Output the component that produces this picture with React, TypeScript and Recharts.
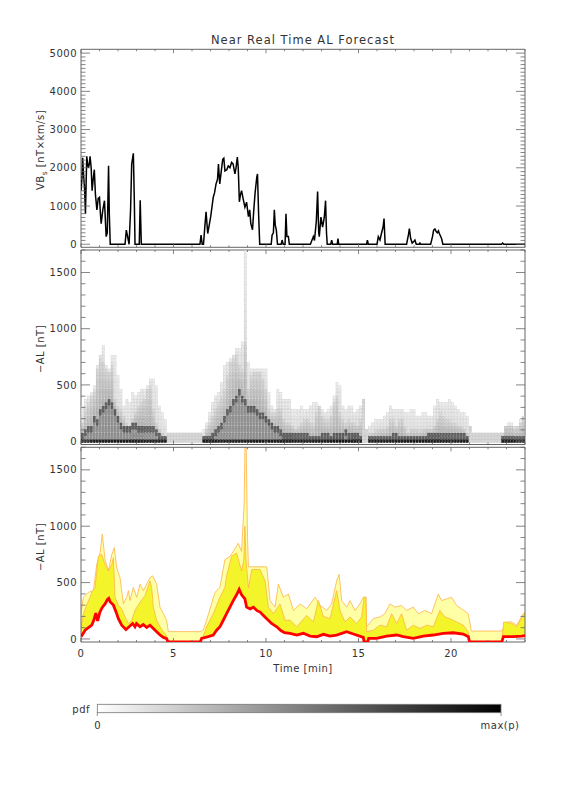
import React from "react";
import {
  Area,
  ComposedChart,
  Line,
  ReferenceArea,
  Scatter,
  XAxis,
  YAxis,
} from "recharts";

const FONT = "DejaVu Sans";
const FRAME = "#666";
const TEXT = "#333";
const PLOT_W = 444;

// ---- top panel: VBs [nT x km/s] vs time [min]
const vbTime = [
  0, 0.05, 0.09, 0.14, 0.19, 0.24, 0.31, 0.36, 0.4, 0.45, 0.49, 0.55, 0.6, 0.66, 0.72, 0.78, 0.86, 0.93, 1.0,
  1.05, 1.09, 1.18, 1.27, 1.32, 1.36, 1.42, 1.49, 1.53, 1.58, 2.38, 2.45, 2.52, 2.6, 2.68, 2.74, 2.83, 2.88,
  2.92, 3.15, 3.2, 3.26, 6.43, 6.49, 6.55, 6.62, 6.7, 6.76, 6.85, 6.93, 7.01, 7.15, 7.22, 7.3, 7.38, 7.43, 7.5,
  7.58, 7.66, 7.72, 7.78, 7.88, 7.96, 8.05, 8.14, 8.22, 8.32, 8.38, 8.45, 8.5, 8.56, 8.62, 8.68, 8.76, 8.86,
  8.95, 9.05, 9.12, 9.18, 9.27, 9.34, 9.41, 9.5, 9.54, 9.6, 9.66, 10.28, 10.33, 10.4, 10.45, 10.5, 10.56,
  10.62, 10.82, 10.87, 10.93, 11.03, 11.08, 11.13, 11.21, 11.26, 12.4, 12.56, 12.62, 12.72, 12.79, 12.85,
  12.88, 12.97, 13.06, 13.15, 13.22, 13.27, 13.31, 13.5, 13.55, 13.6, 13.85, 13.89, 13.93, 15.44, 15.48,
  15.53, 16.0, 16.07, 16.16, 16.25, 16.33, 16.38, 16.44, 17.6, 17.7, 17.75, 17.82, 17.9, 18.0, 18.05, 18.12,
  18.28, 18.32, 18.36, 18.9, 19.0, 19.06, 19.13, 19.2, 19.26, 19.32, 19.37, 19.49, 19.56, 22.73, 22.79,
  22.85, 24,
];
const vbValue = [
  1400, 1700, 2260, 1800, 1490, 800, 2300, 2100, 2000, 2100, 2300, 2000, 1400, 1700, 1950, 1300, 900, 1200,
  1230, 800, 540, 900, 1140, 600, 200, 300, 2050, 800, 0, 0, 370, 200, 0, 900, 2100, 2380, 1200, 0, 0, 1150,
  0, 0, 240, 0, 0, 500, 850, 280, 500, 720, 1230, 1350, 1580, 1700, 2100, 1580, 1900, 2220, 2250, 1920, 1950,
  2050, 2000, 2140, 2100, 1840, 2000, 2280, 2000, 1110, 1300, 1400, 1200, 970, 1100, 720, 900, 540, 380, 900,
  1340, 1750, 1840, 800, 0, 0, 240, 300, 900, 500, 370, 0, 0, 110, 0, 0, 800, 200, 200, 0, 0, 200, 100, 600,
  1380, 300, 200, 710, 450, 700, 1140, 300, 0, 0, 110, 0, 0, 150, 0, 0, 110, 0, 0, 200, 110, 300, 450, 670,
  0, 0, 250, 410, 150, 30, 80, 110, 0, 0, 30, 0, 0, 200, 370, 400, 330, 300, 350, 280, 150, 0, 0, 30, 0, 0,
];

// ---- bottom panel: forecast -AL [nT], median (red) and upper quantiles
const medTime = [
  0, 0.1, 0.22, 0.4, 0.58, 0.7, 0.8, 0.9, 1.02, 1.15, 1.3, 1.43, 1.5, 1.57, 1.75, 1.9, 2.02, 2.2, 2.43, 2.6,
  2.79, 2.92, 3.0, 3.19, 3.37, 3.55, 3.73, 3.91, 4.09, 4.27, 4.45, 4.63, 4.7, 6.45, 6.52, 6.88, 7.15, 7.33,
  7.51, 7.69, 7.87, 8.05, 8.23, 8.41, 8.55, 8.68, 8.86, 8.95, 9.14, 9.32, 9.5, 9.68, 9.86, 10.04, 10.3,
  10.58, 10.8, 11.0, 11.3, 11.66, 12.02, 12.38, 12.74, 13.1, 13.46, 13.82, 14.36, 14.72, 15.26, 15.3, 15.5,
  15.55, 15.98, 16.52, 17.06, 17.42, 17.96, 18.5, 19.04, 19.58, 20.12, 20.66, 20.94, 21.0, 22.75, 22.83,
  23.37, 23.82, 24,
];
const medValue = [
  20, 45, 78, 100, 122, 170, 230, 160, 238, 280, 311, 350, 360, 330, 300, 238, 180, 122, 84, 108, 137, 108,
  137, 108, 128, 102, 122, 93, 64, 35, 14, 3, -25, -25, 5, 20, 35, 78, 108, 166, 224, 282, 340, 392, 440, 392,
  355, 282, 267, 282, 253, 238, 209, 180, 137, 108, 75, 55, 50, 35, 50, 26, 20, 41, 26, 35, 64, 44, 14, -25,
  -25, 5, 5, 26, 35, 20, 5, 26, 35, 50, 55, 44, 20, -25, -25, 20, 20, 26, 30,
];

const q75Time = [
  0, 0.13, 0.3, 0.49, 0.6, 0.76, 0.94, 1.12, 1.3, 1.48, 1.66, 1.75, 1.84, 2.02, 2.2, 2.38, 2.56, 2.74, 2.92,
  3.19, 3.46, 3.64, 3.73, 3.82, 3.91, 4.09, 4.27, 4.45, 4.6, 4.7, 6.5, 6.79, 7.15, 7.51, 7.78, 7.87, 8.14,
  8.41, 8.68, 8.8, 8.86, 8.92, 9.05, 9.23, 9.68, 9.95, 10.13, 10.4, 10.76, 11.03, 11.3, 11.66, 12.2, 12.56,
  12.83, 13.1, 13.46, 13.82, 14.0, 14.27, 14.54, 14.9, 15.17, 15.3, 15.4, 15.44, 15.8, 16.16, 16.52, 16.79,
  17.06, 17.33, 17.6, 17.96, 18.32, 18.68, 19.04, 19.4, 19.67, 19.94, 20.3, 20.66, 20.93, 21.0, 22.75, 22.85,
  23.28, 23.55, 23.91, 24,
];
const q75Value = [
  100, 224, 300, 370, 420, 457, 733, 750, 660, 602, 660, 720, 370, 297, 268, 195, 137, 166, 253, 326, 384, 471,
  515, 457, 282, 166, 108, 64, 35, -25, -25, 108, 224, 370, 457, 558, 733, 762, 602, 700, 1000, 700, 457, 616,
  616, 515, 282, 224, 311, 166, 166, 108, 209, 151, 340, 200, 180, 428, 253, 151, 195, 137, 195, 370, 370, 64,
  78, 122, 108, 224, 137, 224, 78, 122, 93, 122, 108, 253, 195, 180, 151, 122, 64, -25, -25, 151, 137, 108,
  209, 230,
];

const q90Time = [
  0, 0.13, 0.4, 0.67, 0.85, 1.03, 1.15, 1.3, 1.48, 1.66, 1.8, 1.93, 2.11, 2.29, 2.47, 2.56, 2.65, 2.83, 3.01,
  3.19, 3.37, 3.55, 3.73, 3.87, 4.09, 4.27, 4.45, 4.63, 4.72, 6.43, 6.61, 6.79, 7.24, 7.51, 7.78, 8.05, 8.23,
  8.5, 8.68, 8.82, 8.86, 8.93, 9.0, 9.05, 9.32, 10.04, 10.22, 10.49, 10.67, 10.94, 11.21, 11.48, 11.84, 12.2,
  12.65, 12.92, 13.28, 13.55, 13.82, 13.95, 14.09, 14.36, 14.54, 14.81, 15.08, 15.26, 15.4, 15.44, 15.8,
  16.16, 16.43, 16.7, 16.97, 17.33, 17.6, 17.96, 18.23, 18.59, 18.95, 19.31, 19.49, 19.76, 20.03, 20.3,
  20.57, 20.93, 21.1, 22.74, 23.01, 23.28, 23.55, 23.91, 24,
];
const q90Value = [
  230, 370, 413, 428, 660, 762, 930, 704, 602, 747, 810, 631, 544, 312, 370, 428, 341, 457, 370, 486, 428, 486,
  544, 560, 486, 282, 224, 166, 65, 65, 78, 166, 413, 457, 704, 733, 776, 849, 776, 1200, 1700, 1700, 900, 640,
  640, 640, 340, 282, 486, 370, 399, 253, 311, 268, 370, 300, 253, 311, 515, 573, 340, 282, 340, 253, 311, 370,
  370, 108, 180, 195, 224, 311, 282, 297, 253, 282, 224, 253, 224, 398, 340, 355, 370, 297, 268, 224, 70, 70,
  151, 151, 122, 224, 240,
];

const timeMajor = [0, 5, 10, 15, 20];
const vbMajor = [0, 1000, 2000, 3000, 4000, 5000];
const alMajor = [0, 500, 1000, 1500];

const steps = (from: number, to: number, step: number) =>
  Array.from({ length: Math.round((to - from) / step) + 1 }, (_, i) => from + i * step);
const timeTicks = steps(0, 24, 1);
const vbTicks = steps(0, 5000, 100);
const alTicks = steps(0, 1700, 100);

const pairs = (ts: number[], vs: number[]) => ts.map((t, i) => ({ t, v: vs[i] }));
const vbData = pairs(vbTime, vbValue);
const medData = pairs(medTime, medValue);
const q75Data = pairs(q75Time, q75Value);
const q90Data = pairs(q90Time, q90Value);

// ---- middle panel: pdf cells, shaded from the quantiles above
function valueAt(ts: number[], vs: number[], t: number) {
  for (let i = 1; i < ts.length; i++) {
    if (t <= ts[i]) {
      const f = (t - ts[i - 1]) / (ts[i] - ts[i - 1]);
      return vs[i - 1] + f * (vs[i] - vs[i - 1]);
    }
  }
  return vs[vs.length - 1];
}

const PDF_DT = 0.16;
const PDF_DV = 30;
const pdfCells: { t: number; v: number; p: number }[] = [];
for (let c = 0; c * PDF_DT < 24 - 0.01; c++) {
  const t = c * PDF_DT + PDF_DT / 2;
  const m = valueAt(medTime, medValue, t);
  const a = Math.max(m, valueAt(q75Time, q75Value, t));
  const b = Math.max(a, valueAt(q90Time, q90Value, t));
  for (let k = 0; k * PDF_DV <= b; k++) {
    const v = k * PDF_DV;
    let p: number;
    if (m < 0) p = 0.14;
    else if (v <= 20) p = 0.88;
    else if (Math.abs(v - m) <= 30) p = 0.62;
    else if (v < m) p = 0.42;
    else if (v <= a) p = 0.3 - 0.16 * ((v - m) / Math.max(a - m, 1));
    else p = 0.1 - 0.05 * ((v - a) / Math.max(b - a, 1));
    pdfCells.push({ t, v, p });
  }
}

const CELL_W = PDF_DT * (PLOT_W / 24);

function PdfCell(props: any) {
  const { cx, cy, payload } = props;
  if (cx == null || cy == null) return null;
  const g = Math.round(255 * (1 - payload.p));
  const s = Math.max(0, g - 30);
  return (
    <rect
      x={cx - CELL_W / 2 + 0.4}
      y={cy - 1.4}
      width={CELL_W - 0.8}
      height={2.8}
      fill={`rgb(${g},${g},${g})`}
      stroke={`rgb(${s},${s},${s})`}
      strokeWidth={0.5}
    />
  );
}

function yTick(major: number[]) {
  return (props: any) => {
    const { x, y, payload } = props;
    const isMajor = major.includes(payload.value);
    const len = isMajor ? 9 : 4.5;
    return (
      <g>
        <line x1={x} x2={x + len} y1={y} y2={y} stroke={FRAME} strokeWidth={0.8} />
        <line x1={x + PLOT_W} x2={x + PLOT_W - len} y1={y} y2={y} stroke={FRAME} strokeWidth={0.8} />
        {isMajor && (
          <text x={x - 4} y={y} dy="0.36em" textAnchor="end" fontSize={10} fill={TEXT} letterSpacing={0.5}>
            {payload.value}
          </text>
        )}
      </g>
    );
  };
}

function xTick(plotH: number, labels: boolean) {
  return (props: any) => {
    const { x, y, payload } = props;
    const isMajor = timeMajor.includes(payload.value);
    const len = isMajor ? 4 : 2;
    return (
      <g>
        <line x1={x} x2={x} y1={y} y2={y - len} stroke={FRAME} strokeWidth={0.8} />
        <line x1={x} x2={x} y1={y - plotH} y2={y - plotH + len} stroke={FRAME} strokeWidth={0.8} />
        {labels && isMajor && (
          <text x={x} y={y + 15} textAnchor="middle" fontSize={10} fill={TEXT} letterSpacing={0.5}>
            {payload.value}
          </text>
        )}
      </g>
    );
  };
}

type PanelProps = {
  top: number;
  height: number;
  plotTop: number;
  plotBottom: number;
  domain: [number, number];
  yTicks: number[];
  yMajor: number[];
  xLabels?: boolean;
  children: React.ReactNode;
};

function Panel({ top, height, plotTop, plotBottom, domain, yTicks, yMajor, xLabels = false, children }: PanelProps) {
  const plotH = plotBottom - plotTop;
  return (
    <div style={{ position: "absolute", left: 0, top, width: 576, height }}>
      <ComposedChart
        width={576}
        height={height}
        margin={{ top: plotTop - top, right: 51, bottom: top + height - plotBottom - 20, left: 41 }}
        style={{ fontFamily: FONT }}
      >
        <XAxis
          type="number"
          dataKey="t"
          domain={[0, 24]}
          allowDataOverflow
          ticks={timeTicks}
          interval={0}
          height={20}
          tickSize={0}
          tickMargin={0}
          tickLine={false}
          axisLine={false}
          tick={xTick(plotH, xLabels)}
        />
        <YAxis
          type="number"
          domain={domain}
          allowDataOverflow
          ticks={yTicks}
          interval={0}
          width={40}
          tickSize={0}
          tickMargin={0}
          tickLine={false}
          axisLine={false}
          tick={yTick(yMajor)}
        />
        {children}
        <ReferenceArea
          x1={0}
          x2={24}
          y1={domain[0]}
          y2={domain[1]}
          fill="none"
          stroke={FRAME}
          strokeWidth={1}
          ifOverflow="visible"
        />
      </ComposedChart>
    </div>
  );
}

export default function App() {
  return (
    <div style={{ position: "absolute", left: 0, top: 0, width: 576, height: 792, background: "#fff", fontFamily: FONT }}>
      <Panel top={0} height={272} plotTop={49.3} plotBottom={247.3} domain={[-80, 5100]} yTicks={vbTicks} yMajor={vbMajor}>
        <Line
          data={vbData}
          dataKey="v"
          type="linear"
          stroke="#000"
          strokeWidth={1.5}
          dot={false}
          activeDot={false}
          isAnimationActive={false}
        />
      </Panel>

      <Panel top={240} height={230} plotTop={250} plotBottom={444.5} domain={[-30, 1700]} yTicks={alTicks} yMajor={alMajor}>
        <Scatter data={pdfCells} dataKey="v" shape={PdfCell} isAnimationActive={false} />
      </Panel>

      <Panel
        top={440}
        height={240}
        plotTop={447.3}
        plotBottom={642}
        domain={[-27, 1700]}
        yTicks={alTicks}
        yMajor={alMajor}
        xLabels
      >
        <Area
          data={q90Data}
          dataKey="v"
          type="linear"
          baseValue="dataMin"
          fill="#ffffa6"
          fillOpacity={1}
          stroke="#ffb347"
          strokeWidth={0.8}
          dot={false}
          activeDot={false}
          isAnimationActive={false}
        />
        <Area
          data={q75Data}
          dataKey="v"
          type="linear"
          baseValue="dataMin"
          fill="#f4f42a"
          fillOpacity={1}
          stroke="#ffb347"
          strokeWidth={0.8}
          dot={false}
          activeDot={false}
          isAnimationActive={false}
        />
        <Area
          data={medData}
          dataKey="v"
          type="linear"
          baseValue="dataMin"
          fill="#fff"
          fillOpacity={1}
          stroke="none"
          dot={false}
          activeDot={false}
          isAnimationActive={false}
        />
        <Line
          data={medData}
          dataKey="v"
          type="linear"
          stroke="#ff0000"
          strokeWidth={2.8}
          dot={false}
          activeDot={false}
          isAnimationActive={false}
        />
      </Panel>

      <svg
        width={576}
        height={792}
        style={{ position: "absolute", left: 0, top: 0, pointerEvents: "none" }}
        fontFamily={FONT}
      >
        <defs>
          <linearGradient id="pdfScale" x1="0" y1="0" x2="1" y2="0">
            <stop offset="0%" stopColor="#ffffff" />
            <stop offset="100%" stopColor="#000000" />
          </linearGradient>
        </defs>
        <text x={303} y={44} textAnchor="middle" fontSize={11.5} fill={TEXT} letterSpacing={1}>
          Near Real Time AL Forecast
        </text>
        <text transform="translate(44,150) rotate(-90)" textAnchor="middle" fontSize={10} fill={TEXT} letterSpacing={0.5}>
          VB
          <tspan fontSize={7.5} dy={3}>
            s
          </tspan>
          <tspan dy={-3}> [nT×km/s]</tspan>
        </text>
        <text transform="translate(44,349) rotate(-90)" textAnchor="middle" fontSize={10} fill={TEXT} letterSpacing={0.5}>
          −AL [nT]
        </text>
        <text transform="translate(44,547) rotate(-90)" textAnchor="middle" fontSize={10} fill={TEXT} letterSpacing={0.5}>
          −AL [nT]
        </text>
        <text x={303} y={672} textAnchor="middle" fontSize={10} fill={TEXT} letterSpacing={0.5}>
          Time [min]
        </text>

        <rect x={97.3} y={704.3} width={403.7} height={8.4} fill="url(#pdfScale)" stroke="#777" strokeWidth={0.8} />
        <line x1={97.3} x2={97.3} y1={712.7} y2={716} stroke="#777" strokeWidth={0.8} />
        <line x1={501} x2={501} y1={712.7} y2={716} stroke="#777" strokeWidth={0.8} />
        <text x={90} y={713} textAnchor="end" fontSize={10} fill={TEXT} letterSpacing={0.5}>
          pdf
        </text>
        <text x={97.5} y={729} textAnchor="middle" fontSize={10} fill={TEXT}>
          0
        </text>
        <text x={500} y={729} textAnchor="middle" fontSize={10} fill={TEXT} letterSpacing={0.5}>
          max(p)
        </text>
      </svg>
    </div>
  );
}
